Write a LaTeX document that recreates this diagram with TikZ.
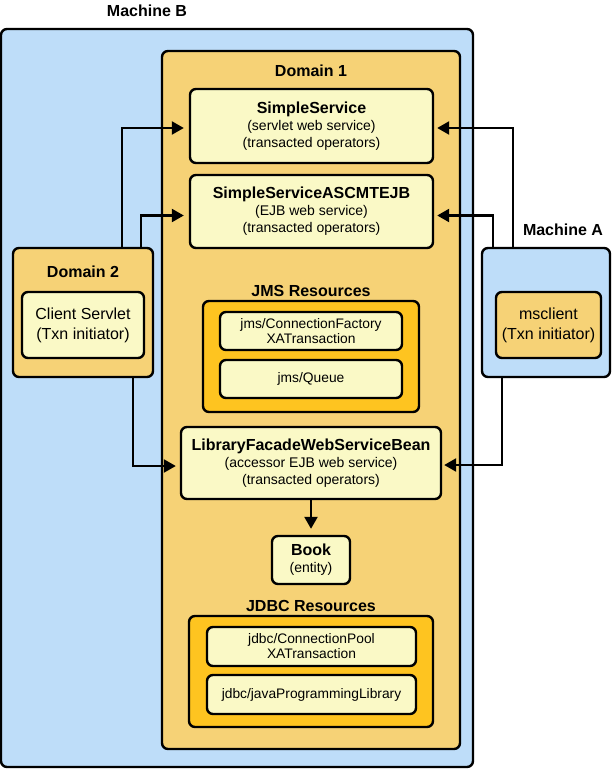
\documentclass[tikz,border=0pt]{standalone}
\usepackage{fontspec}
\setmainfont{Liberation Sans}
\usetikzlibrary{arrows.meta}
\definecolor{mblue}{RGB}{190,221,249}
\definecolor{dorange}{RGB}{246,210,118}
\definecolor{lyellow}{RGB}{250,249,198}
\definecolor{rorange}{RGB}{254,196,32}
\tikzset{
  box/.style={draw=black,line width=2.4pt,rounded corners=6pt,inner sep=0pt,minimum width=#1},
  hd/.style={font=\bfseries\fontsize{16}{19}\selectfont,inner sep=0pt},
  desc/.style={align=center,font=\fontsize{14}{17}\selectfont},
  res/.style={align=center,font=\fontsize{13.8}{15}\selectfont},
  arr/.style={line width=2.4pt,-{Triangle[length=12pt,width=13pt]}},
}
\newcommand{\ttl}[1]{{\bfseries\fontsize{16}{17}\selectfont #1}}
\begin{document}
\begin{tikzpicture}[x=1pt,y=-1pt]
\useasboundingbox (0,0) rectangle (612,770);
% Machine B
\node[box=472pt,minimum height=738pt,fill=mblue] (mb) at (237,398) {};
\node[hd] (mbl) at (147,11) {Machine B};
% Domain 1
\node[box=298pt,minimum height=698pt,fill=dorange] (d1) at (311,400) {};
\node[hd] (d1l) at (311,71) {Domain 1};
\node[box=243pt,minimum height=74pt,fill=lyellow,desc] (ss) at (311.5,126) {\ttl{SimpleService}\\(servlet web service)\\(transacted operators)};
\node[box=243pt,minimum height=73pt,fill=lyellow,desc] (ssa) at (311.5,211.5) {\ttl{SimpleServiceASCMTEJB}\\(EJB web service)\\(transacted operators)};
\node[hd] (jmsl) at (311,291) {JMS Resources};
\node[box=216pt,minimum height=111pt,fill=rorange] (jms) at (311,356.5) {};
\node[box=182pt,minimum height=38pt,fill=lyellow,res] (jcf) at (311,331) {jms/ConnectionFactory\\XATransaction};
\node[box=182pt,minimum height=38pt,fill=lyellow,res] (jq) at (311,379) {jms/Queue};
\node[box=260pt,minimum height=72pt,fill=lyellow,desc] (lib) at (311,463) {\ttl{LibraryFacadeWebServiceBean}\\(accessor EJB web service)\\(transacted operators)};
\node[box=78pt,minimum height=48pt,fill=lyellow,desc] (book) at (311,560) {\ttl{Book}\\(entity)};
\node[hd] (jdbcl) at (311,606) {JDBC Resources};
\node[box=244pt,minimum height=111pt,fill=rorange] (jdbc) at (311,671.5) {};
\node[box=209pt,minimum height=39pt,fill=lyellow,res] (jcp) at (311.5,646.5) {jdbc/ConnectionPool\\XATransaction};
\node[box=209pt,minimum height=39pt,fill=lyellow,res] (jlib) at (311.5,694.5) {jdbc/javaProgrammingLibrary};
% Domain 2
\node[box=140pt,minimum height=129pt,fill=dorange] (d2) at (83,312.5) {};
\node[hd] (d2l) at (83,272) {Domain 2};
\node[box=122pt,minimum height=66pt,fill=lyellow,align=center,font=\fontsize{16}{20}\selectfont] (cs) at (83,325) {Client Servlet\\(Txn initiator)};
% Machine A
\node[box=128pt,minimum height=129pt,fill=mblue] (ma) at (546,312.5) {};
\node[hd] (mal) at (563,230) {Machine A};
\node[box=105pt,minimum height=66pt,fill=dorange,align=center,font=\fontsize{16}{20}\selectfont] (msc) at (548.5,325) {msclient\\(Txn initiator)};
% arrows
\draw[arr] ([xshift=39pt]d2.north) |- ([xshift=-5pt,yshift=-2pt]ss.west);
\draw[arr] ([xshift=58pt]d2.north) |- ([xshift=-5pt,yshift=-4pt]ssa.west);
\draw[arr] ([xshift=50pt]d2.south) |- ([xshift=-4pt,yshift=-3pt]lib.west);
\draw[arr] ([xshift=-33pt]ma.north) |- ([xshift=3pt,yshift=-2pt]ss.east);
\draw[arr] ([xshift=-53pt]ma.north) |- ([xshift=3pt,yshift=-4pt]ssa.east);
\draw[arr] ([xshift=-44pt]ma.south) |- ([xshift=2pt,yshift=-2pt]lib.east);
\draw[arr] (lib.south) -- ([yshift=6pt]book.north);
\end{tikzpicture}
\end{document}
